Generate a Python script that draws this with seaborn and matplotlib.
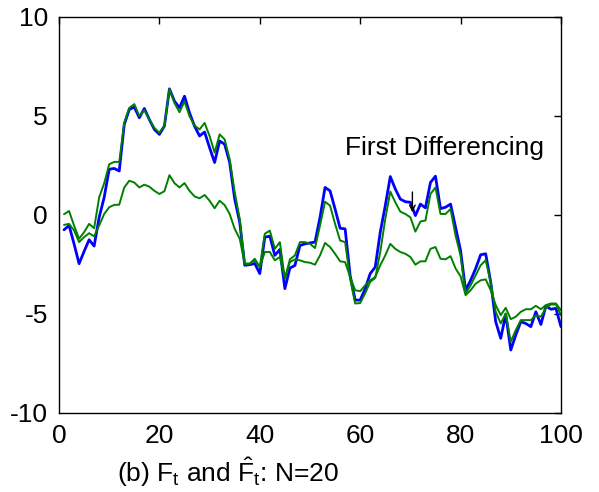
import numpy as np
import pandas as pd
import matplotlib
matplotlib.use("Agg")
import matplotlib.pyplot as plt
import seaborn as sns

sns.set_style("white")
plt.rcParams["font.family"] = ["Liberation Sans", "DejaVu Sans"]
plt.rcParams["mathtext.default"] = "regular"
plt.rcParams["axes.unicode_minus"] = False
plt.rcParams["text.color"] = "black"

# -----------------------------
# DATA
# -----------------------------

t = list(range(1, 101))

# true factor F_t (blue)
f_true = [
    -0.75, -0.53, -1.46, -2.46, -1.84, -1.25, -1.57, -0.12, 0.89, 2.31,
    2.35, 2.22, 4.57, 5.33, 5.45, 4.91, 5.38, 4.82, 4.32, 4.07,
    4.49, 6.37, 5.75, 5.41, 6.00, 5.16, 4.49, 3.99, 4.19, 3.40,
    2.65, 3.74, 3.57, 2.65, 0.81, -0.36, -2.54, -2.51, -2.45, -2.96,
    -1.12, -1.07, -2.04, -1.74, -3.72, -2.68, -2.55, -1.54, -1.46, -1.41,
    -1.37, -0.12, 1.39, 1.22, 0.30, -0.67, -0.70, -3.05, -4.30, -4.30,
    -3.72, -2.96, -2.63, -0.87, 0.47, 1.94, 1.31, 0.80, 0.67, 0.64,
    -0.03, 0.55, 0.36, 1.64, 1.96, 0.32, 0.39, 0.55, -0.62, -1.80,
    -3.80, -3.30, -2.71, -2.01, -1.96, -3.38, -5.39, -6.23, -5.02, -6.82,
    -6.06, -5.39, -5.48, -5.64, -4.89, -5.53, -4.60, -4.76, -4.72, -5.64,
]

# estimate that tracks F_t closely (green)
f_hat_a = [
    0.04, 0.20, -0.53, -1.20, -0.87, -0.45, -0.67, 0.89, 1.60, 2.56,
    2.68, 2.68, 4.66, 5.41, 5.60, 5.00, 5.30, 4.80, 4.40, 4.15,
    4.52, 6.37, 5.66, 5.19, 5.74, 4.99, 4.52, 4.32, 4.65, 3.99,
    3.15, 4.07, 3.82, 2.82, 1.15, -0.20, -2.46, -2.46, -2.30, -2.63,
    -0.95, -0.79, -1.71, -1.37, -3.22, -2.24, -2.04, -1.37, -1.37, -1.46,
    -1.67, -0.53, 0.67, 0.47, -0.45, -1.29, -1.37, -3.22, -4.47, -4.45,
    -3.95, -3.38, -3.18, -1.87, -0.20, 1.18, 0.64, 0.17, 0.05, -0.12,
    -0.84, -0.33, -0.28, 1.06, 1.39, 0.05, 0.05, 0.30, -1.04, -2.05,
    -3.97, -3.55, -3.05, -2.54, -2.29, -3.38, -4.89, -5.48, -4.97, -6.40,
    -5.81, -5.31, -5.31, -5.31, -5.06, -5.14, -4.69, -4.52, -4.52, -5.06,
]

# damped estimate (green)
f_hat_b = [
    -0.50, -0.45, -0.78, -1.37, -1.12, -0.92, -1.08, -0.53, 0.05, 0.39,
    0.51, 0.52, 1.39, 1.73, 1.64, 1.39, 1.53, 1.43, 1.22, 1.06,
    1.20, 2.01, 1.61, 1.39, 1.61, 1.22, 0.94, 0.84, 1.01, 0.72,
    0.34, 0.72, 0.50, 0.05, -0.70, -1.20, -2.46, -2.46, -2.21, -2.63,
    -1.87, -1.87, -2.29, -2.12, -3.18, -2.38, -2.24, -2.29, -2.38, -2.41,
    -2.51, -2.04, -1.41, -1.62, -1.96, -2.34, -2.38, -3.13, -3.80, -3.85,
    -3.55, -3.30, -3.13, -2.54, -2.04, -1.46, -1.71, -1.87, -1.96, -2.12,
    -2.51, -2.34, -2.34, -1.71, -1.62, -2.21, -2.24, -2.08, -2.70, -3.10,
    -4.05, -3.80, -3.47, -3.30, -3.25, -3.80, -4.55, -5.06, -4.69, -5.26,
    -5.14, -4.89, -4.76, -4.76, -4.59, -4.76, -4.55, -4.47, -4.47, -4.81,
]

df = pd.DataFrame({"t": t, "F": f_true, "Fa": f_hat_a, "Fb": f_hat_b})

# -----------------------------
# PLOT
# -----------------------------

fig = plt.figure(figsize=(5.99, 4.92), dpi=100)
ax = fig.add_axes([0.0985, 0.1606, 0.838, 0.8049])

sns.lineplot(data=df, x="t", y="F", color="#0000ff", linewidth=2.0, ax=ax)
sns.lineplot(data=df, x="t", y="Fa", color="#008000", linewidth=1.4, ax=ax)
sns.lineplot(data=df, x="t", y="Fb", color="#008000", linewidth=1.4, ax=ax)

ax.set_xlim(0, 100)
ax.set_ylim(-10, 10)
ax.set_xticks([0, 20, 40, 60, 80, 100])
ax.set_yticks([-10, -5, 0, 5, 10])
ax.set_xlabel("")
ax.set_ylabel("")
ax.tick_params(direction="in", top=True, right=True, length=5, width=1,
               labelsize=19, pad=8, colors="black")
for s in ax.spines.values():
    s.set_color("black")
    s.set_linewidth(1.0)

ax.text(76.8, 3.4, "First Differencing", fontsize=19, color="black",
        ha="center", va="center")
ax.annotate("", xy=(70.4, 0.0), xytext=(70.4, 1.3),
            arrowprops=dict(arrowstyle="->", color="black", lw=1.0))

fig.text(228 / 599, 1 - 472 / 492, r"(b) F$_t$ and $\hat{F}_t$: N=20",
         fontsize=19, color="black", ha="center", va="center")

fig.savefig("out.png", dpi=100)
